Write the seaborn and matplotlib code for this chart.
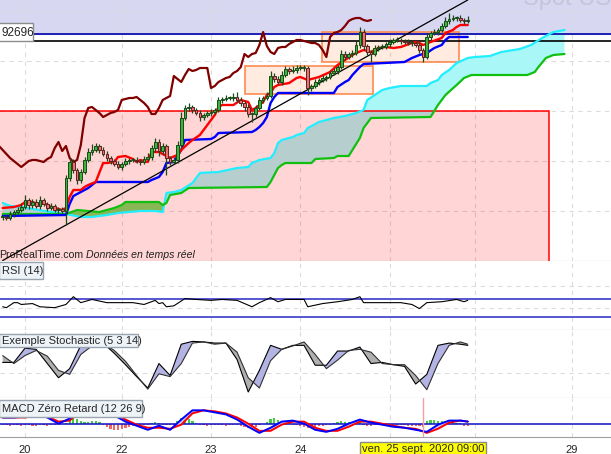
import numpy as np
import matplotlib
matplotlib.use("Agg")
import matplotlib.pyplot as plt
import seaborn as sns
from matplotlib.patches import Rectangle
from matplotlib.transforms import blended_transform_factory

W, H = 611, 454
BASE, PIP = 0.9, 0.0001          # USD/CHF, values below are pips above 0.9000

# hourly bars, bar 0 = first bar of the "20" session
first_bar = -6
close_pips = [87, 86, 90, 92, 94, 97,
              104, 99, 102, 98, 104, 100, 96, 98, 94, 95, 93,
              126, 142, 134, 124, 132, 144, 152, 154, 158,
              154, 150, 146, 143, 140, 137, 140, 143, 144, 144, 143,
              142, 145, 147, 156, 162, 153, 158, 146, 142, 144, 159,
              186, 196, 197, 194, 191, 187, 189, 191, 192, 194, 204,
              205, 206, 206, 207, 204, 201, 197, 190, 190, 196, 204,
              206, 208, 228, 225, 222, 229, 235, 233, 234, 236, 236,
              236, 216, 218, 222, 224, 226, 227, 231, 233, 237, 250,
              247, 250, 251, 259, 272, 258, 252, 250, 256, 257, 257,
              260, 262, 264, 264, 263, 262, 261, 261, 259, 254, 247,
              267, 271, 272, 274, 278, 283, 285, 286, 286, 284, 283, 284]
wick_up = [2, 2, 3, 2, 3, 4,
           5, 2, 3, 3, 4, 2, 2, 3, 2, 2, 2,
           3, 4, 3, 2, 3, 3, 4, 6, 3,
           2, 3, 3, 2, 2, 3, 2, 3, 2, 2, 3,
           2, 3, 4, 3, 4, 3, 3, 2, 2, 3, 4,
           6, 3, 4, 2, 2, 3, 2, 2, 3, 2, 3,
           2, 3, 2, 4, 5, 3, 2, 3, 2, 3, 3,
           2, 4, 5, 3, 3, 4, 3, 2, 4, 3, 3,
           3, 2, 2, 3, 2, 3, 2, 3, 3, 2, 4,
           3, 2, 3, 4, 5, 3, 2, 2, 3, 2, 3,
           2, 3, 2, 3, 2, 2, 3, 2, 2, 3, 2,
           3, 2, 3, 2, 3, 4, 6, 3, 2, 3, 2, 4]
wick_dn = [3, 2, 2, 3, 2, 2,
           2, 4, 3, 2, 3, 2, 3, 2, 2, 3, 2,
           14, 3, 3, 4, 3, 2, 2, 3, 2,
           3, 2, 3, 3, 2, 2, 3, 2, 3, 2, 2,
           3, 2, 2, 3, 4, 5, 3, 17, 3, 2, 3,
           3, 2, 3, 3, 2, 4, 3, 2, 3, 2, 2,
           3, 2, 2, 3, 2, 3, 4, 3, 8, 3, 2,
           3, 2, 2, 3, 2, 3, 2, 3, 2, 3, 2,
           3, 7, 3, 2, 3, 2, 3, 2, 2, 3, 2,
           3, 2, 3, 2, 3, 4, 3, 8, 2, 3, 2,
           2, 3, 2, 2, 3, 2, 2, 3, 2, 3, 5,
           2, 3, 2, 3, 2, 2, 3, 2, 3, 2, 3, 2]

# Ichimoku lines (bar, pips)
tenkan_bar = [-6, -3, -1, 0, 2, 4, 5, 7, 10, 11, 12, 13, 15, 16, 17, 19, 21, 22, 24, 25,
              27, 29, 30, 31, 33, 34, 36, 39, 41, 42, 44, 45, 47, 49, 51, 52, 53, 56, 58, 60,
              61, 62, 64, 65, 66, 67, 68, 71, 73, 74, 76, 79, 82, 84, 86, 88, 89, 91, 93, 95,
              97, 99, 101, 104, 105, 106, 107, 109, 112, 113, 115, 116, 117, 119]
tenkan_pips = [96, 97, 99, 102, 102, 99, 101, 97, 94, 96, 107, 114, 114, 117, 119, 122, 141, 141, 142, 147,
               148, 145, 142, 144, 142, 152, 152, 146, 149, 154, 161, 164, 169, 179, 189, 197, 199, 199, 204, 202,
               194, 196, 202, 209, 211, 217, 219, 221, 226, 227, 224, 227, 232, 239, 244, 249, 251, 254, 252, 256,
               257, 256, 257, 261, 262, 261, 259, 262, 266, 271, 274, 277, 279, 279]
kijun_bar = [-6, 11, 12, 13, 15, 17, 19, 33, 34, 36, 37, 38, 40, 42, 43, 50, 51, 52, 61, 62,
             63, 64, 65, 66, 67, 68, 83, 84, 86, 87, 88, 90, 91, 102, 104, 106, 108, 110, 112, 113,
             114, 119]
kijun_pips = [88, 89, 100, 108, 112, 116, 122, 122, 124, 127, 132, 141, 142, 154, 164, 165, 167, 171, 172, 174,
              177, 181, 187, 201, 207, 211, 211, 217, 222, 224, 229, 237, 240, 242, 246, 249, 251, 256, 259, 264,
              267, 267]
span_a_bar = [-6, -4, -1, 2, 7, 11, 15, 18, 22, 25, 31, 35, 37, 38, 40, 42, 45, 47, 52, 57,
              60, 61, 63, 66, 67, 68, 69, 72, 73, 75, 76, 77, 79, 83, 86, 89, 91, 92, 94, 96,
              98, 101, 108, 109, 111, 112, 114, 116, 119, 121, 125, 128, 133, 136, 139, 142, 145]
span_a_pips = [101, 98, 97, 95, 92, 90, 87, 87, 89, 91, 93, 93, 92, 111, 112, 114, 121, 131, 132, 136,
               137, 141, 144, 146, 151, 161, 164, 167, 169, 171, 176, 178, 182, 186, 188, 191, 194, 204, 209, 214,
               216, 218, 218, 221, 224, 229, 234, 241, 246, 247, 248, 252, 255, 259, 266, 272, 274]
span_b_bar = [-6, 11, 14, 20, 24, 26, 27, 35, 36, 37, 38, 39, 42, 44, 65, 66, 68, 69, 70, 77,
              78, 83, 84, 87, 89, 90, 91, 93, 109, 111, 113, 116, 118, 120, 135, 137, 138, 140, 142, 145]
span_b_pips = [90, 90, 94, 92, 96, 99, 102, 102, 102, 99, 101, 109, 111, 116, 117, 122, 136, 139, 141, 141,
               145, 146, 148, 148, 160, 166, 176, 186, 187, 199, 209, 219, 226, 229, 229, 232, 237, 246, 249, 250]
chikou_shift = 26

# drawn objects: trend line, zones, levels
trend_bar, trend_pips = [-6, 119], [43.5, 304]
red_zone = (-20, 140.9, -100, 193)              # bar from/to, pips from/to
orange_zones = [(59.1, 93.5, 210, 238), (79.8, 116.7, 242, 272)]
level_blue, level_black = 0.92696, 0.9263
level_label = "92696"

# RSI (14)
rsi_bar = [-6, -5, -3, -2, -1, 2, 4, 8, 11, 13, 15, 18, 22, 25, 29, 32, 35, 36, 37, 38,
           40, 43, 46, 50, 53, 57, 61, 63, 66, 68, 70, 75, 76, 80, 84, 88, 90, 91, 94, 97,
           101, 104, 106, 108, 112, 116, 118, 119]
rsi_val = [52, 50, 61, 61, 57, 59, 52, 50, 57, 74, 61, 68, 61, 61, 61, 57, 66, 59, 61, 52,
           54, 70, 68, 66, 68, 66, 52, 61, 72, 63, 68, 68, 52, 59, 63, 68, 74, 61, 61, 61,
           61, 57, 48, 61, 63, 68, 63, 66]

# Stochastic (5 3 14) and MACD zero lag (12 26 9), sampled every 3 bars
osc_bar = [-6, -3, 0, 3, 6, 9, 12, 15, 18, 21, 24, 27, 30, 33, 36, 39, 42, 45, 48, 51,
           54, 57, 60, 63, 66, 69, 72, 75, 78, 81, 84, 87, 90, 93, 96, 99, 102, 105, 108, 111,
           114, 117, 119]
stoch_k = [59, 59, 84, 82, 57, 32, 48, 89, 91, 93, 75, 55, 34, 14, 57, 36, 91, 96, 95, 93,
           93, 64, 7, 45, 89, 82, 89, 89, 54, 54, 79, 79, 86, 57, 59, 55, 52, 21, 38, 89,
           93, 91, 89]
stoch_d = [71, 57, 71, 80, 70, 45, 38, 73, 88, 93, 80, 61, 36, 12, 39, 34, 57, 93, 95, 91,
           93, 77, 32, 14, 62, 82, 88, 95, 73, 48, 63, 80, 82, 77, 57, 55, 55, 36, 11, 57,
           89, 95, 91]
macd_line = [6, 6, 7, 9, 6, 0, 5, 16, 19, 16, 8, 2, -2, -6, -2, -6, 4, 13, 13, 11,
             9, 4, -3, -9, -4, 2, 3, 0, -6, -8, -5, 0, 4, 1, -1, -3, -4, -6, -8, -1,
             3, 3, 2]
macd_signal = [6, 6, 6, 8, 7, 2, 3, 12, 17, 17, 11, 4, -1, -4, -4, -5, -1, 10, 13, 12,
               10, 6, 0, -7, -7, -1, 2, 2, -4, -7, -7, -3, 2, 2, 0, -2, -4, -5, -9, -5,
               1, 3, 2]
macd_hist = [-1, -1, -2, -1, -1, -2, -1, -1, -2, -2, -1, -1, -2, -1, -1, 0,
             0, 1,
             3, 6, 5, 3, 2, 2, 3, 3, 2,
             -1, -3, -5, -6, -6, -5, -4, -3, -2, -1, -1, -1, -1,
             1, 2, 1, -1, -1, -1, -1,
             3, 6, 7, 5, 3, 1,
             -1, -1, -2, -1, -1, -1, -1, -2, -1, -1, -1,
             -2, -3, -4, -4, -3, -1, 0,
             2, 5, 6, 4, 3, 2, 1,
             -1, -1, -2, -3, -4, -4, -3, -2, -2, -1, -1,
             1, 2, 3, 2, 2, 2, 3, 3,
             -1, -2, -2, -1, -1, -1, -2, -2, -1, -1, -1, -1, -2, -2, -2, -2, -3,
             3, 4, 4, 3, 3, 3, 2, 2, 1, 1,
             -2, -2]

# x axis (25 and 28 sit under the cursor date box, so they show no label)
day_bars = [0, 26, 50, 74, 98, 121, 147]
day_labels = ["20", "22", "23", "24", "", "", "29"]
cursor_bar = 107
cursor_label = "ven. 25 sept. 2020 09:00"
x_lo, x_hi = -6.72, 157.5


def price(p):
    return BASE + np.asarray(p, dtype=float) * PIP


def fx(x):
    return x / W


def fy(y):
    return 1 - y / H


sns.set_style("white")
plt.rcParams["font.family"] = ["Liberation Sans", "DejaVu Sans"]
fig = plt.figure(figsize=(W / 100, H / 100), dpi=100)


def panel(top, bottom):
    ax = fig.add_axes([0, fy(bottom), 1, (bottom - top) / H])
    ax.set_xlim(x_lo, x_hi)
    for s in ("top", "left", "right"):
        ax.spines[s].set_visible(False)
    ax.spines["bottom"].set_color("#a0a0a0")
    ax.set_xticks(day_bars)
    ax.grid(True, color="#dcdcdc", ls=(0, (4, 4)), lw=0.8)
    ax.set_axisbelow(True)
    ax.tick_params(length=0, labelbottom=False, labelleft=False)
    return ax


# ---------------- main price panel ----------------
ax = panel(0, 261)
ax.set_ylim(price(43), price(304))
ax.set_yticks(price([93, 143, 193, 243, 293]))

ax.axhspan(level_blue, 1.0, color="#d7d7f2", zorder=0.2)

xf = np.linspace(-6, 145, 1500)
sa = price(np.interp(xf, span_a_bar, span_a_pips))
sb = price(np.interp(xf, span_b_bar, span_b_pips))
ax.fill_between(xf, sa, sb, where=sa >= sb, interpolate=True, color="#aaf7f7", lw=0, zorder=1)
ax.fill_between(xf, sa, sb, where=sa < sb, interpolate=True, color="#72dc66", lw=0, zorder=1)

x0, x1, p0, p1 = red_zone
ax.add_patch(Rectangle((x0, price(p0)), x1 - x0, price(p1) - price(p0),
                       fc=(1, 0, 0, 0.165), ec="#ff0000", lw=1.1, zorder=2))
for x0, x1, p0, p1 in orange_zones:
    ax.add_patch(Rectangle((x0, price(p0)), x1 - x0, price(p1) - price(p0),
                           fc=(1, 0.45, 0.15, 0.14), ec="#ff8a50", lw=1.2, zorder=2))

ax.axhline(level_blue, color="#0000a8", lw=1.2, zorder=3)
ax.axhline(level_black, color="black", lw=1.2, zorder=3)

bars = np.arange(first_bar, first_bar + len(close_pips))
close = np.array(close_pips, dtype=float)
opn = np.r_[close[0], close[:-1]]
hi = np.maximum(opn, close) + np.array(wick_up)
lo = np.minimum(opn, close) - np.array(wick_dn)

sns.lineplot(x=span_a_bar, y=price(span_a_pips), ax=ax, color="#22eeff", linewidth=1.6, zorder=4)
sns.lineplot(x=span_b_bar, y=price(span_b_pips), ax=ax, color="#10c010", linewidth=1.6, zorder=4)
sns.lineplot(x=bars - chikou_shift, y=price(close), ax=ax, color="#800000", linewidth=1.6, zorder=4)
sns.lineplot(x=kijun_bar, y=price(kijun_pips), ax=ax, color="#0000ff", linewidth=1.7, zorder=5)
sns.lineplot(x=tenkan_bar, y=price(tenkan_pips), ax=ax, color="#ff0000", linewidth=1.7, zorder=5)
sns.lineplot(x=trend_bar, y=price(trend_pips), ax=ax, color="black", linewidth=0.9, zorder=5)

up = close >= opn
ax.vlines(bars, price(lo), price(hi), color="#1a4a1a", lw=0.9, zorder=6)
ax.bar(bars, np.maximum(np.abs(close - opn), 0.6) * PIP, bottom=price(np.minimum(opn, close)),
       width=0.72, color=np.where(up, "#3cb43c", "#ec7070"),
       edgecolor=np.where(up, "#174a17", "#5a2222"), linewidth=0.7, zorder=7)
ax.set_xlabel("")
ax.set_ylabel("")
ax.text(fx(-1), fy(255), "ProRealTime.com", transform=fig.transFigure,
        fontsize=7.6, va="center", ha="left", color="#202020")
ax.text(fx(86), fy(255), "Données en temps réel", transform=fig.transFigure,
        fontsize=7.6, va="center", ha="left", style="italic", color="#202020")

# ---------------- RSI ----------------
ax_rsi = panel(261, 330)
ax_rsi.set_ylim(1.1, 152.2)
ax_rsi.set_yticks([50, 97])
ax_rsi.axhline(70, color="#2828c8", lw=1.1)
ax_rsi.axhline(30, color="#2828c8", lw=1.1)
sns.lineplot(x=rsi_bar, y=rsi_val, ax=ax_rsi, color="black", linewidth=0.8, zorder=4)
ax_rsi.set_xlabel("")
ax_rsi.set_ylabel("")

# ---------------- Stochastic ----------------
ax_st = panel(330, 398)
ax_st.set_ylim(-3.6, 116)
ax_st.set_yticks([40])
k = np.array(stoch_k, dtype=float)
d = np.array(stoch_d, dtype=float)
ax_st.fill_between(osc_bar, k, d, where=k >= d, interpolate=True, color="#b4b4e4", lw=0, zorder=2)
ax_st.fill_between(osc_bar, k, d, where=k < d, interpolate=True, color="#b0b0b0", lw=0, zorder=2)
sns.lineplot(x=osc_bar, y=k, ax=ax_st, color="black", linewidth=0.8, zorder=4)
sns.lineplot(x=osc_bar, y=d, ax=ax_st, color="#303030", linewidth=0.8, zorder=4)
ax_st.set_xlabel("")
ax_st.set_ylabel("")

# ---------------- MACD ----------------
ax_m = panel(398, 437)
ax_m.set_ylim(-13, 25)
ax_m.set_yticks([])
hist = np.array(macd_hist, dtype=float)
ax_m.bar(bars, hist, width=0.6, color=np.where(hist > 0, "#44cc44", "#ee6666"), lw=0, zorder=2)
ax_m.axhline(0, color="#1010c8", lw=1.1, zorder=3)
m = np.array(macd_line, dtype=float)
s = np.array(macd_signal, dtype=float)
ax_m.fill_between(osc_bar, m, s, where=m >= s, interpolate=True, color="#c4c4f2", lw=0, zorder=3)
ax_m.fill_between(osc_bar, m, s, where=m < s, interpolate=True, color="#f6c4c4", lw=0, zorder=3)
sns.lineplot(x=osc_bar, y=s, ax=ax_m, color="#ff0000", linewidth=1.4, zorder=4)
sns.lineplot(x=osc_bar, y=m, ax=ax_m, color="#0000ff", linewidth=1.4, zorder=4)
ax_m.axvline(cursor_bar, color="#f4a0a0", lw=1, zorder=5)
ax_m.set_xticklabels(day_labels)
ax_m.tick_params(axis="x", length=3, color="#a0a0a0", labelbottom=True, labelsize=8, pad=2.5)
ax_m.set_xlabel("")
ax_m.set_ylabel("")

# ---------------- labels ----------------
def label_box(x0, y0, x1, y1, text):
    fig.add_artist(Rectangle((fx(x0), fy(y1)), fx(x1) - fx(x0), (y1 - y0) / H,
                             transform=fig.transFigure, fc="#eef3f8", ec="#98a4b0", lw=1, zorder=10))
    fig.text(fx(x0 + 3), fy((y0 + y1) / 2), text, fontsize=8, ha="left", va="center", zorder=11)


label_box(-1, 262, 43, 279, "RSI (14)")
label_box(-1, 334, 138, 347, "Exemple Stochastic (5 3 14)")
label_box(-1, 400, 142, 417, "MACD Zéro Retard (12 26 9)")

fig.add_artist(Rectangle((fx(-2), fy(41)), fx(35), 18 / H, transform=fig.transFigure,
                         fc="white", ec="#8c8c8c", lw=1, zorder=10))
fig.text(fx(1), fy(32.5), level_label, fontsize=8.5, ha="left", va="center", zorder=11)
fig.text(fx(523), fy(5), "Spot USD/CHF", fontsize=17, color="#c4c4da", ha="left", va="baseline", zorder=1)

tr = blended_transform_factory(ax_m.transData, fig.transFigure)
fig.text(cursor_bar, fy(448.5), cursor_label, transform=tr, fontsize=8, ha="center", va="center",
         zorder=12, bbox=dict(boxstyle="square,pad=0.18", fc="#ffff00", ec="#888888", lw=1))

fig.savefig("out.png", dpi=100)
